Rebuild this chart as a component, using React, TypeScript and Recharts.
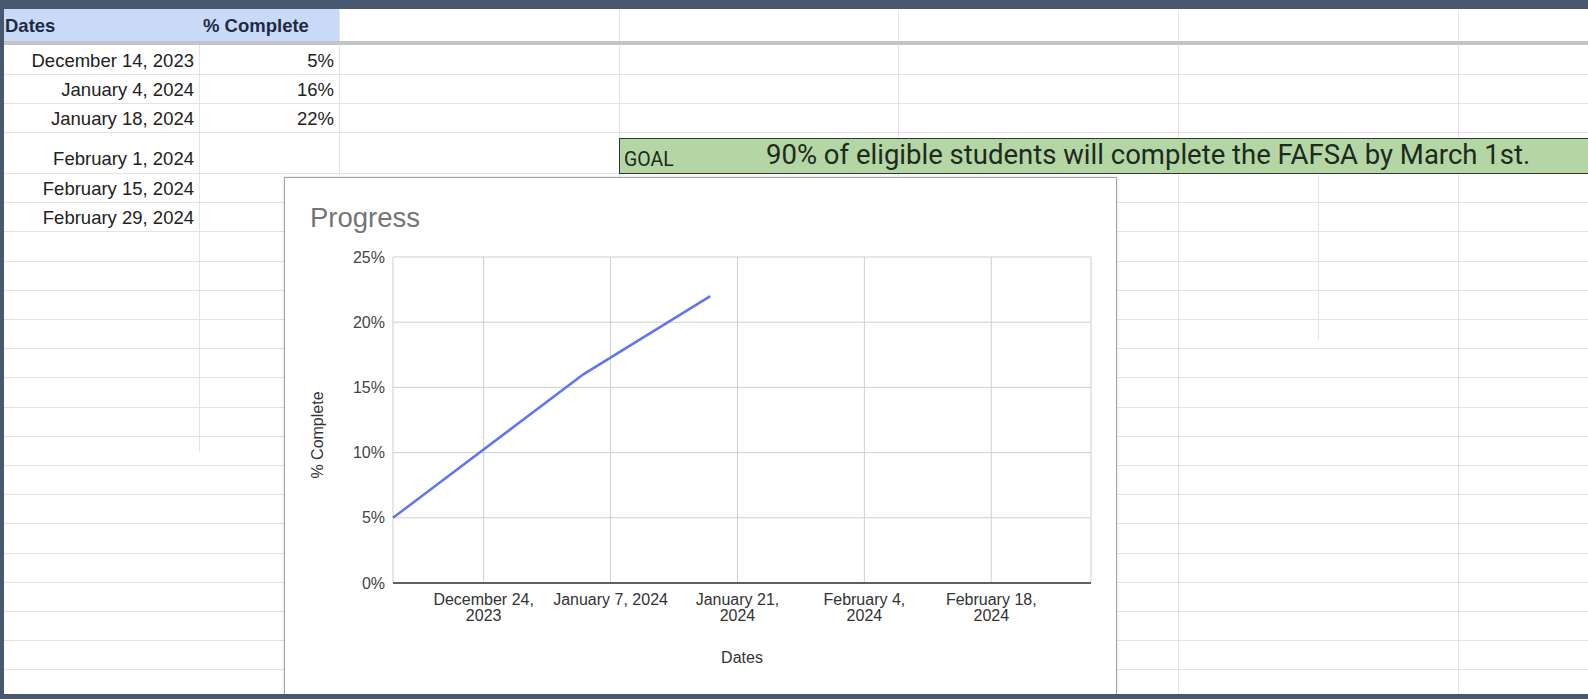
import { LineChart, Line, XAxis, YAxis, CartesianGrid } from 'recharts'

// sheet rows
const dateLabels = [
  'December 14, 2023',
  'January 4, 2024',
  'January 18, 2024',
  'February 1, 2024',
  'February 15, 2024',
  'February 29, 2024',
]
const dates = ['2023-12-14', '2024-01-04', '2024-01-18', '2024-02-01', '2024-02-15', '2024-02-29']
const pctComplete: (number | null)[] = [5, 16, 22, null, null, null]

// axes
const xTicks = ['2023-12-24', '2024-01-07', '2024-01-21', '2024-02-04', '2024-02-18']
const xTickLabels = [
  ['December 24,', '2023'],
  ['January 7, 2024'],
  ['January 21,', '2024'],
  ['February 4,', '2024'],
  ['February 18,', '2024'],
]
const yTicks = [0, 5, 10, 15, 20, 25]

const goalText = '90% of eligible students will complete the FAFSA by March 1st.'

const ts = (d: string) => Date.parse(d + 'T00:00:00Z')
const data = dates.map((d, i) => ({ t: ts(d), pct: pctComplete[i] }))
const tickValues = xTicks.map(ts)

const sheetFont = 'Arial, "Liberation Sans", sans-serif'
const FRAME = '#47576f'
const GRID = '#e3e3e3'

function DateTick({ x, y, payload }: any) {
  const idx = tickValues.indexOf(payload.value)
  const lines = xTickLabels[idx] ?? []
  return (
    <text x={x} y={y} textAnchor="middle" fill="#333" fontSize={16} fontFamily={sheetFont}>
      {lines.map((l, i) => (
        <tspan key={i} x={x} dy={i === 0 ? 14 : 16}>
          {l}
        </tspan>
      ))}
    </text>
  )
}

function ProgressChart() {
  return (
    <LineChart
      width={831}
      height={516}
      data={data}
      margin={{ top: 79, right: 25, bottom: 0, left: 0 }}
    >
      <CartesianGrid stroke="#cfcfcf" />
      <XAxis
        dataKey="t"
        type="number"
        domain={[ts(dates[0]), ts(dates[dates.length - 1])]}
        ticks={tickValues}
        height={111}
        interval={0}
        tick={<DateTick />}
        tickLine={false}
        axisLine={{ stroke: '#333', strokeWidth: 1.5 }}
        label={{
          content: ({ viewBox }: any) => (
            <text
              x={viewBox.x + viewBox.width / 2}
              y={viewBox.y + 74}
              textAnchor="middle"
              dominantBaseline="central"
              fill="#333"
              fontSize={16}
              fontFamily={sheetFont}
            >
              Dates
            </text>
          ),
        }}
      />
      <YAxis
        domain={[0, 25]}
        ticks={yTicks}
        width={108}
        tickFormatter={(v) => `${v}%`}
        tick={{ fill: '#444', fontSize: 16, fontFamily: sheetFont }}
        tickLine={false}
        axisLine={false}
        label={{
          content: ({ viewBox }: any) => {
            const cx = 32
            const cy = viewBox.y + viewBox.height / 2 + 15
            return (
              <text
                x={cx}
                y={cy}
                transform={`rotate(-90, ${cx}, ${cy})`}
                textAnchor="middle"
                dominantBaseline="central"
                fill="#333"
                fontSize={16}
                fontFamily={sheetFont}
              >
                % Complete
              </text>
            )
          },
        }}
      />
      <Line
        dataKey="pct"
        stroke="#5f76f0"
        strokeWidth={2.5}
        dot={false}
        isAnimationActive={false}
      />
    </LineChart>
  )
}

// grid lines of the sheet behind the chart
const rowLines = [74, 103, 132, 173]
for (let y = 202.2; y < 694; y += 29.2) rowLines.push(Math.round(y))
const colLines = [619, 898, 1178, 1458]

export default function App() {
  return (
    <div
      style={{
        position: 'absolute',
        left: 0,
        top: 0,
        width: 1588,
        height: 699,
        background: '#fff',
        overflow: 'hidden',
        fontFamily: sheetFont,
      }}
    >
      {/* row lines */}
      {rowLines.map((y) => (
        <div key={y} style={{ position: 'absolute', left: 0, top: y, width: 1588, height: 1, background: GRID }} />
      ))}
      {colLines.map((x) => (
        <div key={x} style={{ position: 'absolute', left: x, top: 10, width: 1, height: 690, background: GRID }} />
      ))}
      <div style={{ position: 'absolute', left: 1318, top: 175, width: 1, height: 165, background: GRID }} />
      <div style={{ position: 'absolute', left: 199, top: 10, width: 1, height: 442, background: GRID }} />
      <div style={{ position: 'absolute', left: 339, top: 10, width: 1, height: 165, background: GRID }} />

      {/* header row */}
      <div style={{ position: 'absolute', left: 0, top: 9, width: 339, height: 32, background: '#c9daf8' }} />
      <div style={{ position: 'absolute', left: 5, top: 15, fontSize: 18.5, fontWeight: 'bold', color: '#1f2a44' }}>Dates</div>
      <div style={{ position: 'absolute', left: 203, top: 15, fontSize: 18.5, fontWeight: 'bold', color: '#1f2a44' }}>% Complete</div>
      <div style={{ position: 'absolute', left: 0, top: 41, width: 1588, height: 4, background: '#c4c4c4' }} />

      {/* sheet cells */}
      {dateLabels.map((d, i) => {
        const top = [50, 79, 108, 148, 178, 207][i]
        return (
          <div key={d}>
            <div style={{ position: 'absolute', left: 0, top, width: 194, textAlign: 'right', fontSize: 18.5, color: '#222' }}>{d}</div>
            {pctComplete[i] != null && (
              <div style={{ position: 'absolute', left: 200, top, width: 134, textAlign: 'right', fontSize: 18.5, color: '#222' }}>
                {pctComplete[i]}%
              </div>
            )}
          </div>
        )
      })}

      {/* goal banner */}
      <div
        style={{
          position: 'absolute',
          left: 619,
          top: 138,
          width: 980,
          height: 36,
          boxSizing: 'border-box',
          background: '#b4d6a4',
          border: '1.5px solid #2f3a2f',
          fontFamily: 'Roboto, sans-serif',
          color: '#1d2a1d',
        }}
      >
        <span style={{ position: 'absolute', left: 4, bottom: 2, fontSize: 19.5 }}>GOAL</span>
        <span style={{ position: 'absolute', left: 146, top: -1, fontSize: 27.5, whiteSpace: 'nowrap' }}>{goalText}</span>
      </div>

      {/* chart box */}
      <div
        style={{
          position: 'absolute',
          left: 284,
          top: 177,
          width: 833,
          height: 520,
          boxSizing: 'border-box',
          background: '#fff',
          border: '1px solid #a3a3a3',
          boxShadow: '0 0 3px rgba(0,0,0,0.15)',
        }}
      >
        <div style={{ position: 'absolute', left: 25, top: 24, fontSize: 27.5, lineHeight: '32px', color: '#757575' }}>Progress</div>
        <div style={{ position: 'absolute', left: 0, top: 0 }}>
          <ProgressChart />
        </div>
      </div>

      {/* dark frame */}
      <div style={{ position: 'absolute', left: 0, top: 0, width: 1588, height: 9, background: FRAME }} />
      <div style={{ position: 'absolute', left: 0, top: 0, width: 4, height: 699, background: FRAME }} />
      <div style={{ position: 'absolute', left: 0, top: 694, width: 1588, height: 5, background: FRAME }} />
    </div>
  )
}
